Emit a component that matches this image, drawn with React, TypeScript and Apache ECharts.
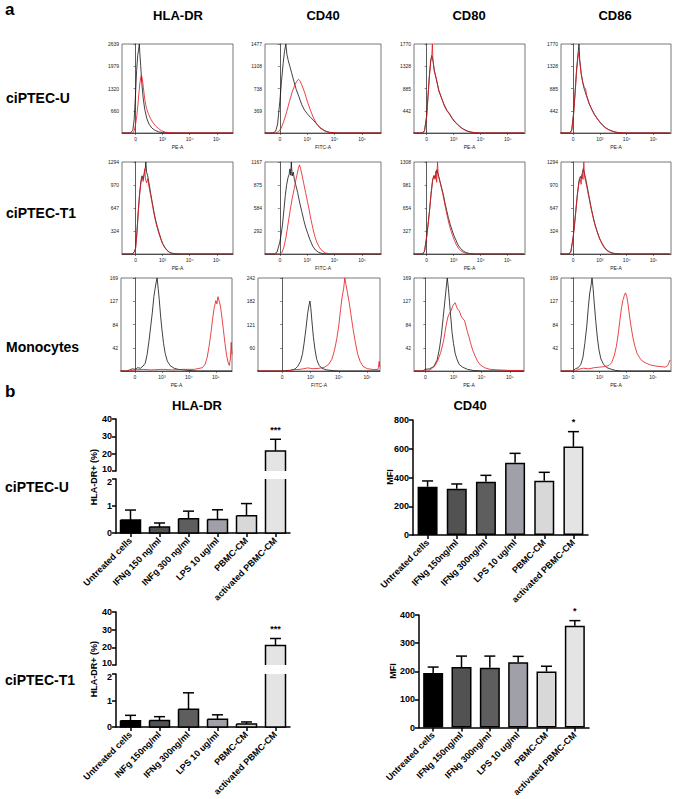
import React, { useEffect, useRef } from 'react';
import * as echarts from 'echarts';

const FONT = 'Liberation Sans, Arial, Helvetica, sans-serif';

// ---------- panel a : flow cytometry histograms ----------
const markers = ['HLA-DR', 'CD40', 'CD80', 'CD86'];
const cellLines = ['ciPTEC-U', 'ciPTEC-T1', 'Monocytes'];
const xTickLabels = ['0', '10³', '10⁴', '10⁵'];
const channelNames = ['PE-A', 'FITC-A', 'PE-A', 'PE-A'];

const yTickLabels = [
  ['660', '1320', '1979', '2639'], ['369', '738', '1108', '1477'], ['442', '885', '1328', '1770'], ['442', '885', '1328', '1770'],
  ['324', '647', '970', '1294'], ['292', '584', '875', '1167'], ['327', '654', '981', '1308'], ['324', '647', '970', '1294'],
  ['42', '84', '127', '169'], ['60', '121', '182', '242'], ['42', '84', '127', '169'], ['42', '84', '127', '169'],
];

// [decade position, count]; black = control, red = stained
const uHlaCtrl = [[-0.5,0],[-0.2,0],[-0.1,80],[-0.05,400],[0,1150],[0.04,1850],[0.08,2300],[0.11,2450],[0.14,2639],[0.16,2350],[0.19,2000],[0.23,1500],[0.28,1050],[0.34,700],[0.42,420],[0.5,260],[0.6,150],[0.72,80],[0.85,35],[1.0,12],[1.2,3],[1.5,0],[3.6,0]];
const uHlaStain = [[-0.5,0],[-0.1,0],[-0.05,60],[0,250],[0.05,520],[0.1,950],[0.15,1400],[0.19,1650],[0.22,1720],[0.25,1600],[0.29,1350],[0.34,1000],[0.4,750],[0.47,580],[0.55,430],[0.65,300],[0.75,200],[0.85,130],[0.95,70],[1.1,25],[1.3,8],[1.6,2],[3.6,0]];
const uCd40Ctrl = [[-0.55,0],[-0.25,0],[-0.15,30],[-0.08,150],[0,520],[0.06,850],[0.12,1150],[0.17,1350],[0.22,1477],[0.26,1300],[0.31,1200],[0.37,1100],[0.43,1000],[0.5,880],[0.6,720],[0.7,600],[0.8,470],[0.9,380],[1.0,320],[1.12,260],[1.25,200],[1.38,130],[1.5,80],[1.65,35],[1.8,12],[2.0,3],[2.2,0],[3.7,0]];
const uCd40Stain = [[-0.55,0],[-0.15,0],[-0.05,20],[0.05,80],[0.15,200],[0.25,350],[0.35,520],[0.45,680],[0.55,800],[0.62,860],[0.68,890],[0.73,870],[0.8,800],[0.9,680],[1.0,530],[1.1,400],[1.2,280],[1.32,170],[1.45,90],[1.6,40],[1.75,15],[1.9,5],[2.1,0],[3.7,0]];
const uCd80Ctrl = [[-0.5,0],[-0.15,0],[-0.08,50],[0,350],[0.05,750],[0.1,1150],[0.15,1450],[0.19,1540],[0.23,1450],[0.28,1250],[0.35,1080],[0.45,850],[0.55,690],[0.65,560],[0.75,450],[0.85,380],[0.95,290],[1.05,220],[1.15,170],[1.25,120],[1.35,80],[1.5,40],[1.65,18],[1.8,6],[2.0,0],[3.6,0]];
const uCd80Stain = [[-0.5,0],[-0.15,0],[-0.08,40],[0,320],[0.05,720],[0.1,1120],[0.15,1420],[0.19,1560],[0.21,1770],[0.23,1470],[0.28,1230],[0.35,1100],[0.45,830],[0.55,700],[0.65,540],[0.75,440],[0.85,370],[0.95,280],[1.05,215],[1.15,160],[1.25,115],[1.35,75],[1.5,35],[1.65,15],[1.8,5],[2.0,0],[3.6,0]];
const uCd86Ctrl = [[-0.5,0],[-0.12,0],[-0.05,60],[0.02,400],[0.08,850],[0.13,1250],[0.18,1550],[0.22,1770],[0.25,1450],[0.3,1200],[0.36,1000],[0.42,870],[0.5,740],[0.6,580],[0.7,470],[0.8,370],[0.9,290],[1.0,220],[1.1,160],[1.2,110],[1.32,70],[1.45,40],[1.6,15],[1.8,4],[2.0,0],[3.6,0]];
const uCd86Stain = [[-0.5,0],[-0.12,0],[-0.05,50],[0.02,380],[0.08,820],[0.13,1230],[0.18,1500],[0.21,1600],[0.25,1420],[0.3,1180],[0.36,1020],[0.42,900],[0.47,880],[0.5,760],[0.6,590],[0.7,460],[0.8,360],[0.9,280],[1.0,210],[1.1,150],[1.2,105],[1.32,65],[1.45,35],[1.6,14],[1.8,3],[2.0,0],[3.6,0]];

const t1HlaCtrl = [[-0.5,0],[-0.12,0],[-0.05,30],[0,80],[0.05,300],[0.1,600],[0.15,850],[0.2,1030],[0.24,1100],[0.28,1050],[0.32,1130],[0.36,1200],[0.38,1294],[0.41,1150],[0.45,1100],[0.5,990],[0.56,850],[0.62,720],[0.68,590],[0.74,480],[0.8,390],[0.87,300],[0.94,210],[1.0,150],[1.08,95],[1.16,55],[1.25,25],[1.35,10],[1.5,3],[1.7,0],[3.6,0]];
const t1HlaStain = [[-0.5,0],[-0.12,0],[-0.05,25],[0,70],[0.05,280],[0.1,580],[0.15,830],[0.2,1000],[0.24,1080],[0.28,1020],[0.31,1100],[0.34,1200],[0.37,1050],[0.41,1000],[0.45,1060],[0.5,940],[0.56,820],[0.62,700],[0.68,570],[0.74,460],[0.8,370],[0.87,280],[0.94,200],[1.0,140],[1.08,90],[1.16,50],[1.25,22],[1.35,9],[1.5,2],[1.7,0],[3.6,0]];
const t1Cd40Ctrl = [[-0.55,0],[-0.2,0],[-0.1,25],[0,150],[0.05,250],[0.1,380],[0.15,560],[0.2,740],[0.25,880],[0.3,970],[0.34,1010],[0.37,1080],[0.4,1000],[0.42,1167],[0.45,990],[0.49,1040],[0.53,950],[0.58,880],[0.65,780],[0.72,660],[0.8,540],[0.88,420],[0.95,330],[1.02,260],[1.1,180],[1.2,100],[1.3,50],[1.42,20],[1.55,6],[1.7,0],[3.7,0]];
const t1Cd40Stain = [[-0.55,0],[0,0],[0.08,20],[0.15,90],[0.22,200],[0.3,380],[0.38,560],[0.45,700],[0.52,820],[0.58,930],[0.63,1010],[0.68,1090],[0.72,1130],[0.76,1080],[0.81,1000],[0.87,900],[0.94,780],[1.0,680],[1.07,560],[1.14,430],[1.21,320],[1.28,220],[1.36,140],[1.45,80],[1.55,40],[1.65,15],[1.8,4],[2.0,0],[3.7,0]];
const t1Cd80Ctrl = [[-0.5,0],[-0.15,0],[-0.08,40],[0,250],[0.05,420],[0.1,600],[0.16,850],[0.22,1050],[0.27,1110],[0.31,1080],[0.35,1150],[0.38,1200],[0.41,1150],[0.45,1100],[0.5,1020],[0.56,930],[0.62,840],[0.68,720],[0.74,620],[0.8,520],[0.87,420],[0.94,340],[1.0,270],[1.08,200],[1.16,130],[1.25,80],[1.35,45],[1.45,20],[1.6,6],[1.8,0],[3.6,0]];
const t1Cd80Stain = [[-0.5,0],[-0.15,0],[-0.08,40],[0,240],[0.05,410],[0.1,590],[0.16,840],[0.22,1060],[0.27,1120],[0.31,1060],[0.34,1180],[0.37,1020],[0.4,1308],[0.43,1100],[0.47,1060],[0.52,980],[0.58,880],[0.64,770],[0.7,650],[0.76,540],[0.82,440],[0.89,340],[0.96,260],[1.03,190],[1.1,130],[1.18,80],[1.27,45],[1.37,20],[1.5,6],[1.7,0],[3.6,0]];
const t1Cd86Ctrl = [[-0.5,0],[-0.15,0],[-0.08,40],[0,230],[0.05,400],[0.1,600],[0.16,840],[0.22,1030],[0.27,1090],[0.31,1060],[0.35,1150],[0.38,1200],[0.42,1140],[0.46,1080],[0.5,1000],[0.56,880],[0.62,760],[0.68,640],[0.74,540],[0.8,440],[0.87,350],[0.94,270],[1.0,210],[1.08,150],[1.16,100],[1.25,60],[1.35,32],[1.45,15],[1.6,5],[1.8,0],[3.6,0]];
const t1Cd86Stain = [[-0.5,0],[-0.15,0],[-0.08,35],[0,220],[0.05,390],[0.1,590],[0.16,830],[0.22,1000],[0.26,1060],[0.3,980],[0.34,1120],[0.37,1050],[0.4,1294],[0.43,1080],[0.47,1020],[0.52,930],[0.58,810],[0.64,700],[0.7,590],[0.76,490],[0.82,400],[0.89,320],[0.96,240],[1.03,180],[1.1,125],[1.18,80],[1.27,45],[1.37,22],[1.5,7],[1.7,0],[3.6,0]];

const moHlaCtrl = [[-0.55,0],[-0.3,0],[-0.2,2],[-0.1,4],[0,3],[0.1,6],[0.2,5],[0.3,9],[0.38,14],[0.45,30],[0.52,55],[0.58,80],[0.64,105],[0.7,135],[0.74,148],[0.78,160],[0.82,169],[0.86,150],[0.9,130],[0.95,100],[1.0,75],[1.06,50],[1.12,32],[1.2,18],[1.3,10],[1.45,5],[1.6,3],[1.8,2],[2.0,1],[2.3,0],[3.6,0]];
const moHlaStain = [[-0.55,0],[-0.2,0],[0,2],[0.3,3],[0.6,2],[1.0,3],[1.4,2],[1.8,3],[2.2,3],[2.5,6],[2.6,12],[2.68,25],[2.75,45],[2.82,70],[2.88,95],[2.94,115],[3.0,128],[3.04,122],[3.08,135],[3.12,128],[3.17,118],[3.22,100],[3.28,75],[3.34,50],[3.4,28],[3.46,15],[3.5,10],[3.54,22],[3.57,52],[3.6,30]];
const moCd40Ctrl = [[-0.9,0],[0,0],[0.3,2],[0.45,5],[0.55,12],[0.65,25],[0.72,45],[0.78,75],[0.84,110],[0.9,150],[0.95,172],[0.98,182],[1.01,165],[1.05,130],[1.1,90],[1.16,55],[1.22,30],[1.3,15],[1.4,7],[1.55,3],[1.8,1],[2.0,0],[3.45,0]];
const moCd40Stain = [[-0.9,0],[0.2,0],[0.4,3],[0.7,5],[0.9,8],[1.1,6],[1.3,7],[1.5,10],[1.65,18],[1.75,30],[1.85,55],[1.93,85],[2.0,120],[2.06,160],[2.12,195],[2.17,215],[2.21,242],[2.25,225],[2.3,205],[2.36,180],[2.42,150],[2.5,110],[2.58,75],[2.66,45],[2.75,25],[2.85,12],[3.0,6],[3.2,4],[3.38,4],[3.42,25],[3.45,10]];
const moCd80Ctrl = [[-0.4,0],[-0.1,0],[0,3],[0.15,4],[0.3,8],[0.42,20],[0.5,40],[0.57,65],[0.63,95],[0.68,120],[0.72,140],[0.76,160],[0.78,169],[0.82,150],[0.86,125],[0.9,100],[0.95,70],[1.0,50],[1.06,32],[1.12,22],[1.2,12],[1.32,7],[1.5,3],[1.7,1],[2.0,0],[3.5,0]];
const moCd80Stain = [[-0.4,0],[0.1,0],[0.22,4],[0.35,10],[0.45,20],[0.55,34],[0.65,55],[0.73,80],[0.8,98],[0.86,105],[0.92,110],[0.97,118],[1.02,122],[1.06,124],[1.1,118],[1.15,112],[1.2,110],[1.27,100],[1.33,95],[1.39,92],[1.45,80],[1.5,70],[1.55,62],[1.6,52],[1.68,38],[1.76,28],[1.85,18],[1.95,11],[2.1,6],[2.3,3],[2.6,2],[3.0,1],[3.5,1]];
const moCd86Ctrl = [[-0.45,0],[0,0],[0.1,4],[0.2,6],[0.3,12],[0.38,25],[0.45,50],[0.52,80],[0.58,115],[0.63,140],[0.68,155],[0.72,169],[0.76,150],[0.8,125],[0.86,90],[0.92,60],[0.98,38],[1.05,22],[1.15,12],[1.28,6],[1.45,3],[1.6,1],[1.8,0],[3.65,0]];
const moCd86Stain = [[-0.45,0],[0.1,0],[0.2,3],[0.4,5],[0.6,4],[0.8,6],[1.0,7],[1.2,8],[1.35,10],[1.45,15],[1.55,28],[1.63,45],[1.7,68],[1.76,92],[1.82,115],[1.88,130],[1.93,138],[1.97,142],[2.02,135],[2.07,120],[2.12,100],[2.18,80],[2.25,60],[2.32,45],[2.4,32],[2.5,24],[2.6,18],[2.75,14],[2.9,11],[3.1,9],[3.3,8],[3.45,7],[3.55,10],[3.63,20]];

const histCurves = [
  [uHlaCtrl, uHlaStain], [uCd40Ctrl, uCd40Stain], [uCd80Ctrl, uCd80Stain], [uCd86Ctrl, uCd86Stain],
  [t1HlaCtrl, t1HlaStain], [t1Cd40Ctrl, t1Cd40Stain], [t1Cd80Ctrl, t1Cd80Stain], [t1Cd86Ctrl, t1Cd86Stain],
  [moHlaCtrl, moHlaStain], [moCd40Ctrl, moCd40Stain], [moCd80Ctrl, moCd80Stain], [moCd86Ctrl, moCd86Stain],
];

// ---------- panel b : bar charts ----------
const hlaULabels = ['Untreated cells', 'IFNg 150 ng/ml', 'INFg 300 ng/ml', 'LPS 10 ug/ml', 'PBMC-CM', 'activated PBMC-CM'];
const cd40ULabels = ['Untreated cells', 'IFNg 150ng/ml', 'IFNg 300ng/ml', 'LPS 10 ug/ml', 'PBMC-CM', 'activated PBMC-CM'];
const hlaT1Labels = ['Untreated cells', 'INFg 150ng/ml', 'IFNg 300ng/ml', 'LPS 10 ug/ml', 'PBMC-CM', 'activated PBMC-CM'];
const cd40T1Labels = ['Untreated cells', 'IFNg 150ng/ml', 'IFNg 300ng/ml', 'LPS 10 ug/ml', 'PBMC-CM', 'activated PBMC-CM'];

const hlaUMean = [0.48, 0.22, 0.53, 0.5, 0.64, 21.5];
const hlaUSem = [0.37, 0.15, 0.28, 0.36, 0.45, 6.8];
const cd40UMean = [336, 322, 371, 503, 378, 615];
const cd40USem = [40, 33, 44, 65, 58, 104];
const hlaT1Mean = [0.24, 0.25, 0.67, 0.29, 0.11, 21];
const hlaT1Sem = [0.2, 0.14, 0.62, 0.17, 0.08, 4];
const cd40T1Mean = [194, 215, 213, 232, 199, 362];
const cd40T1Sem = [21, 39, 41, 21, 19, 18];
const hlaSig = ['', '', '', '', '', '***'];
const cd40Sig = ['', '', '', '', '', '*'];
const barColors = ['#000000', '#525252', '#5e5e5e', '#a0a0a8', '#d8d8d8', '#e4e4e4'];

// layout of the 12 histogram frames
const HIST_LAYOUT = [
  { l: 122, t: 44, w: 111, h: 89, x0: -0.5, x1: 3.6 }, { l: 265, t: 44, w: 116, h: 89, x0: -0.54, x1: 3.69 },
  { l: 414, t: 44, w: 111, h: 89, x0: -0.47, x1: 3.64 }, { l: 561, t: 44, w: 110, h: 89, x0: -0.45, x1: 3.65 },
  { l: 122, t: 162, w: 111, h: 92, x0: -0.5, x1: 3.6 }, { l: 265, t: 162, w: 116, h: 92, x0: -0.54, x1: 3.69 },
  { l: 414, t: 162, w: 111, h: 92, x0: -0.47, x1: 3.64 }, { l: 561, t: 162, w: 110, h: 92, x0: -0.45, x1: 3.65 },
  { l: 121, t: 278, w: 111, h: 93, x0: -0.52, x1: 3.6 }, { l: 258, t: 278, w: 122, h: 93, x0: -0.85, x1: 3.45 },
  { l: 414, t: 278, w: 110, h: 93, x0: -0.4, x1: 3.5 }, { l: 561, t: 278, w: 110, h: 93, x0: -0.44, x1: 3.67 },
];

function buildOption() {
  const grid: any[] = [];
  const xAxis: any[] = [];
  const yAxis: any[] = [];
  const series: any[] = [];
  const axisCol = '#333';

  HIST_LAYOUT.forEach((p, i) => {
    const labels = yTickLabels[i];
    const M = Number(labels[3]);
    const yVals = [M / 4, M / 2, (3 * M) / 4, M];
    grid.push({ left: p.l, top: p.t, width: p.w, height: p.h, show: true, borderColor: '#555', borderWidth: 0.8 });
    xAxis.push({
      gridIndex: i, type: 'value', min: p.x0, max: p.x1,
      name: channelNames[i % 4], nameLocation: 'middle', nameGap: 11,
      nameTextStyle: { fontSize: 5, color: '#222', fontFamily: FONT },
      axisLine: { show: true, onZero: false, lineStyle: { color: axisCol, width: 0.8 } },
      axisTick: { show: true, customValues: [0, 1, 2, 3], length: 2, lineStyle: { color: axisCol, width: 0.6 } },
      axisLabel: { customValues: [0, 1, 2, 3], formatter: (v: number) => xTickLabels[Math.round(v)] ?? '', fontSize: 5, color: '#222', margin: 3, fontFamily: FONT },
      splitLine: { show: false },
    });
    yAxis.push({
      gridIndex: i, type: 'value', min: 0, max: M,
      axisLine: { show: true, lineStyle: { color: axisCol, width: 0.8 } },
      axisTick: { show: true, customValues: yVals, length: 2, lineStyle: { color: axisCol, width: 0.6 } },
      axisLabel: {
        customValues: yVals, fontSize: 5, color: '#222', margin: 3, fontFamily: FONT,
        formatter: (v: number) => { const k = Math.round(v / (M / 4)); return k === 0 ? '' : labels[k - 1]; },
      },
      splitLine: { show: false },
    });
    const [ctrl, stain] = histCurves[i];
    series.push({ type: 'line', xAxisIndex: i, yAxisIndex: i, data: ctrl, symbol: 'none', silent: true, lineStyle: { color: '#111', width: 0.8 } });
    series.push({ type: 'line', xAxisIndex: i, yAxisIndex: i, data: stain, symbol: 'none', silent: true, lineStyle: { color: '#e3161c', width: 0.8 } });
  });

  const barFont = { fontFamily: FONT, fontWeight: 'bold' as const, color: '#000' };
  const BW = 20;

  const errSeries = (gi: number, items: number[][], sig: string[]) => ({
    type: 'custom', xAxisIndex: gi, yAxisIndex: gi, silent: true, z: 5, clip: false,
    data: items,
    renderItem: (params: any, api: any) => {
      const idx = api.value(0);
      const v = api.value(1);
      const e = api.value(2);
      const b = api.coord([idx, v]);
      const t = api.coord([idx, v + e]);
      const children: any[] = [
        { type: 'line', shape: { x1: b[0], y1: b[1], x2: t[0], y2: t[1] }, style: { stroke: '#000', lineWidth: 1.5 } },
        { type: 'line', shape: { x1: t[0] - 5.5, y1: t[1], x2: t[0] + 5.5, y2: t[1] }, style: { stroke: '#000', lineWidth: 1.5 } },
      ];
      const s = sig[idx];
      if (s) {
        children.push({ type: 'text', style: { text: s, x: t[0], y: t[1] - 5, align: 'center', verticalAlign: 'bottom', fill: '#000', font: `bold 9px ${FONT}` } });
      }
      return { type: 'group', children };
    },
  });

  // bars drawn segment by segment for the broken axis (open edge where the axis is cut)
  const segBarSeries = (gi: number, mean: number[], lo: number, hi: number) => ({
    type: 'custom', xAxisIndex: gi, yAxisIndex: gi, silent: true, z: 3, clip: false,
    data: mean.map((v, k) => [k, v]),
    renderItem: (params: any, api: any) => {
      const idx = api.value(0);
      const v = api.value(1);
      if (v <= lo) return null;
      const top = Math.min(v, hi);
      const pb = api.coord([idx, lo]);
      const pt = api.coord([idx, top]);
      const xL = pb[0] - BW / 2;
      const xR = pb[0] + BW / 2;
      const openTop = v > hi;
      const openBottom = lo > 0;
      let pts: number[][];
      if (openBottom) pts = [[xL, pb[1]], [xL, pt[1]], [xR, pt[1]], [xR, pb[1]]];
      else if (openTop) pts = [[xL, pt[1]], [xL, pb[1]], [xR, pb[1]], [xR, pt[1]]];
      else pts = [[xL, pt[1]], [xL, pb[1]], [xR, pb[1]], [xR, pt[1]], [xL, pt[1]]];
      return {
        type: 'group',
        children: [
          { type: 'rect', shape: { x: xL, y: pt[1], width: BW, height: pb[1] - pt[1] }, style: { fill: barColors[idx], stroke: null } },
          { type: 'polyline', shape: { points: pts }, style: { fill: null, stroke: '#000', lineWidth: 1.5 } },
        ],
      };
    },
  });

  const catAxis = (gi: number, labels: string[], show: boolean) => ({
    gridIndex: gi, type: 'category', data: labels, show,
    axisLine: { show: true, lineStyle: { color: '#000', width: 1.5 } },
    axisTick: { show: true, alignWithLabel: true, length: 4, lineStyle: { color: '#000', width: 1.5 } },
    axisLabel: { ...barFont, rotate: 45, interval: 0, fontSize: 9, margin: 6 },
  });
  const valAxis = (gi: number, min: number, max: number, interval: number, nudge?: { value: number; dir: 'up' | 'down' }) => ({
    gridIndex: gi, type: 'value', min, max, interval,
    axisLine: { show: true, lineStyle: { color: '#000', width: 1.5 } },
    axisTick: { show: true, length: 4, lineStyle: { color: '#000', width: 1.5 } },
    axisLabel: {
      ...barFont, fontSize: 9, margin: 4,
      formatter: (v: number) => (nudge && v === nudge.value ? `{${nudge.dir}|${v}}` : String(v)),
      rich: {
        up: { ...barFont, fontSize: 9, padding: [0, 0, 5, 0] },
        down: { ...barFont, fontSize: 9, padding: [5, 0, 0, 0] },
      },
    },
    splitLine: { show: false },
  });
  const barData = (vals: number[]) =>
    vals.map((v, k) => ({ value: v, itemStyle: { color: barColors[k], borderColor: '#000', borderWidth: 1.5 } }));

  // broken-axis HLA-DR chart
  const brokenChart = (gUp: number, gLow: number, upTop: number, upH: number, lowTop: number, lowH: number, labels: string[], mean: number[], sem: number[]) => {
    grid.push({ left: 116, top: upTop, width: 174, height: upH });
    grid.push({ left: 116, top: lowTop, width: 174, height: lowH });
    xAxis.push(catAxis(gUp, labels, false));
    xAxis.push(catAxis(gLow, labels, true));
    yAxis.push(valAxis(gUp, 10, 40, 10, { value: 10, dir: 'up' }));
    yAxis.push(valAxis(gLow, 0, 2, 1, { value: 2, dir: 'down' }));
    series.push(segBarSeries(gUp, mean, 10, 40));
    series.push(segBarSeries(gLow, mean, 0, 2));
    series.push(errSeries(gUp, mean.map((v, k) => [k, v, sem[k]]).filter((d) => d[1] > 10), hlaSig));
    series.push(errSeries(gLow, mean.map((v, k) => [k, v, sem[k]]).filter((d) => d[1] <= 2), hlaSig));
  };
  const simpleChart = (g: number, left: number, top: number, width: number, height: number, labels: string[], mean: number[], sem: number[], max: number, interval: number) => {
    grid.push({ left, top, width, height });
    xAxis.push(catAxis(g, labels, true));
    yAxis.push(valAxis(g, 0, max, interval));
    series.push({ type: 'bar', xAxisIndex: g, yAxisIndex: g, barWidth: BW, silent: true, data: barData(mean) });
    series.push(errSeries(g, mean.map((v, k) => [k, v, sem[k]]), cd40Sig));
  };

  brokenChart(12, 13, 419, 52, 479, 54, hlaULabels, hlaUMean, hlaUSem);
  simpleChart(14, 413, 420, 175, 115, cd40ULabels, cd40UMean, cd40USem, 800, 200);
  brokenChart(15, 16, 612, 53, 674, 53, hlaT1Labels, hlaT1Mean, hlaT1Sem);
  simpleChart(17, 419, 615, 170, 113, cd40T1Labels, cd40T1Mean, cd40T1Sem, 400, 100);

  const txt = (text: string, x: number, y: number, size: number, align = 'left', rotation = 0) => ({
    type: 'text', x, y, rotation, silent: true,
    style: { text, fill: '#000', font: `bold ${size}px ${FONT}`, align, verticalAlign: 'middle', textAlign: align, textVerticalAlign: 'middle' },
  });

  const graphic: any[] = [
    txt('a', 5, 9, 17),
    txt('b', 5, 391, 17),
    txt(markers[0], 178, 15, 13, 'center'),
    txt(markers[1], 323, 15, 13, 'center'),
    txt(markers[2], 469, 15, 13, 'center'),
    txt(markers[3], 615, 15, 13, 'center'),
    txt(cellLines[0], 6, 98, 14),
    txt(cellLines[1], 6, 213, 14),
    txt(cellLines[2], 6, 347, 14),
    txt('HLA-DR', 197, 405, 13, 'center'),
    txt('CD40', 470, 405, 13, 'center'),
    txt(cellLines[0], 5, 487, 14),
    txt(cellLines[1], 5, 680, 14),
    txt('HLA-DR+ (%)', 94, 477, 9, 'center', Math.PI / 2),
    txt('HLA-DR+ (%)', 94, 669, 9, 'center', Math.PI / 2),
    txt('MFI', 390, 477, 9, 'center', Math.PI / 2),
    txt('MFI', 393, 671, 9, 'center', Math.PI / 2),
  ];

  return {
    animation: false,
    backgroundColor: '#ffffff',
    textStyle: { fontFamily: FONT },
    grid, xAxis, yAxis, series, graphic,
  };
}

export default function App() {
  const ref = useRef<HTMLDivElement>(null);
  useEffect(() => {
    if (!ref.current) return;
    const chart = echarts.init(ref.current, undefined, { renderer: 'svg' });
    chart.setOption(buildOption() as any);
    return () => chart.dispose();
  }, []);
  return <div ref={ref} style={{ position: 'absolute', left: 0, top: 0, width: 675, height: 799 }} />;
}
